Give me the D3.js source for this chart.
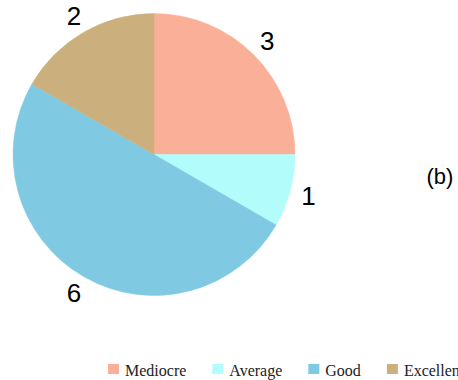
<!DOCTYPE html>
<html><head><meta charset="utf-8">
<script src="https://cdn.jsdelivr.net/npm/d3@7"></script>
<style>html,body{margin:0;padding:0;background:#fff;overflow:hidden}</style>
</head><body>
<svg id="c" width="458" height="380"></svg>
<script>
const categories = ["Mediocre", "Average", "Good", "Excellent"];
const values = [3, 1, 6, 2];
const colors = ["#FAB098", "#B2FCFC", "#80C9E2", "#CBB07E"];
const panelLabel = "(b)";

const svg = d3.select("#c");
const cx = 154, cy = 154.5, R = 141;
const g = svg.append("g").attr("transform", `translate(${cx},${cy})`);
const color = d3.scaleOrdinal().domain(categories).range(colors);
const pie = d3.pie().sort(null).value(d => d.v);
const data = pie(categories.map((c, i) => ({c, v: values[i]})));
const arc = d3.arc().innerRadius(0).outerRadius(R);
g.selectAll("path").data(data).enter().append("path")
  .attr("d", arc).attr("fill", d => color(d.data.c))
  .attr("stroke", d => color(d.data.c)).attr("stroke-width", 0.5);

const labelArc = d3.arc().innerRadius(160).outerRadius(160);
g.selectAll("text.lbl").data(data).enter().append("text")
  .attr("class", "lbl")
  .attr("transform", d => { const p = labelArc.centroid(d); return `translate(${p[0]},${p[1]})`; })
  .attr("text-anchor", "middle").attr("dominant-baseline", "central")
  .style("font-family", "'Liberation Sans', Arial, sans-serif").style("font-size", "26px")
  .attr("fill", "#000").text(d => d.data.v);

svg.append("text").attr("x", 440).attr("y", 184).attr("text-anchor", "middle")
  .style("font-family", "'Liberation Sans', Arial, sans-serif").style("font-size", "22px")
  .attr("fill", "#000").text(panelLabel);

// legend
const lg = svg.append("g");
let x = 108;
categories.forEach((c, i) => {
  lg.append("rect").attr("x", x).attr("y", 364).attr("width", 11).attr("height", 10).attr("fill", color(c));
  const t = lg.append("text").attr("x", x + 17).attr("y", 376)
    .style("font-family", "'Liberation Serif', 'Times New Roman', serif").style("font-size", "16px")
    .attr("fill", "#222").text(c);
  x = x + 17 + t.node().getComputedTextLength() + 26;
});
</script>
</body></html>
